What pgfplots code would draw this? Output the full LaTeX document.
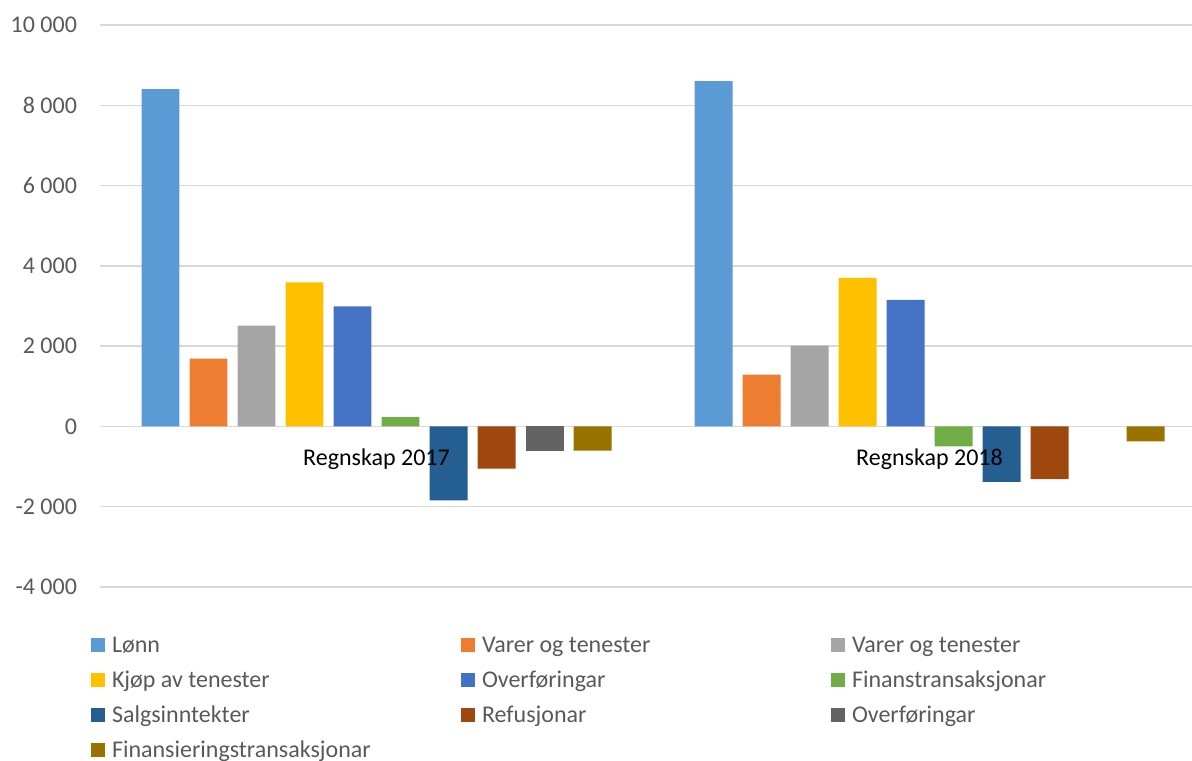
\documentclass[border=0pt]{standalone}
\usepackage{pgfplots}
\pgfplotsset{compat=1.18}
\usepackage{fontspec}
\setmainfont{Carlito}
\definecolor{c1}{HTML}{5B9BD5}
\definecolor{c2}{HTML}{ED7D31}
\definecolor{c3}{HTML}{A5A5A5}
\definecolor{c4}{HTML}{FFC000}
\definecolor{c5}{HTML}{4472C4}
\definecolor{c6}{HTML}{70AD47}
\definecolor{c7}{HTML}{255E91}
\definecolor{c8}{HTML}{9E480E}
\definecolor{c9}{HTML}{636363}
\definecolor{c10}{HTML}{997300}
\definecolor{gridc}{HTML}{D9D9D9}
\definecolor{tickc}{HTML}{595959}
\pgfplotsset{
  mybar/.style={fill=#1, draw=none,
    legend image code/.code={\fill[#1] (0pt,0pt) rectangle (7pt,7pt);}},
}
\newcommand{\legent}[1]{\addlegendentry{\makebox[174.5pt][l]{#1}}}
\begin{document}
\begin{tikzpicture}
\begin{axis}[
  set layers,
  scale only axis, width=546pt, height=281pt,
  xmin=-0.5, xmax=1.4747, ymin=-4000, ymax=10000,
  axis x line=middle, axis y line=left,
  x axis line style={-, draw=gridc, line width=0.75pt},
  y axis line style={draw=none},
  xtick={0,1}, xticklabels={Regnskap 2017, Regnskap 2018},
  ytick={-4000,-2000,0,2000,4000,6000,8000,10000},
  yticklabels={-4 000,-2 000,0,2 000,4 000,6 000,8 000,10 000},
  scaled y ticks=false,
  major tick length=0pt,
  ymajorgrids, grid style={draw=gridc, line width=0.75pt},
  yticklabel style={font=\fontsize{12}{14}\selectfont, text=tickc, xshift=-8pt},
  xticklabel style={font=\fontsize{12}{14}\selectfont, text=black, anchor=base, yshift=-19.5pt, /pgfplots/on layer=axis foreground},
  ybar, bar width=0.0687,
  legend columns=3,
  legend style={draw=none, fill=none, inner sep=0pt, outer sep=0pt,
    at={(axis description cs:0,0)}, anchor=north west, xshift=-4.5pt, yshift=-24.5pt,
    font=\fontsize{12}{14}\selectfont, text=tickc,
    nodes={inner sep=0pt, anchor=base west, text height=8pt, text depth=2.5pt},
    row sep=7pt,
    /tikz/every odd column/.append style={column sep=3.5pt},
    /tikz/every even column/.append style={column sep=0pt}},
]
\addplot[mybar=c1, bar shift=-0.3906] coordinates {(0,8400) (1,8600)}; \legent{Lønn}
\addplot[mybar=c2, bar shift=-0.3038] coordinates {(0,1690) (1,1290)}; \legent{Varer og tenester}
\addplot[mybar=c3, bar shift=-0.2170] coordinates {(0,2510) (1,2010)}; \legent{Varer og tenester}
\addplot[mybar=c4, bar shift=-0.1302] coordinates {(0,3590) (1,3700)}; \legent{Kjøp av tenester}
\addplot[mybar=c5, bar shift=-0.0434] coordinates {(0,2990) (1,3150)}; \legent{Overføringar}
\addplot[mybar=c6, bar shift=0.0434] coordinates {(0,230) (1,-500)}; \legent{Finanstransaksjonar}
\addplot[mybar=c7, bar shift=0.1302] coordinates {(0,-1840) (1,-1380)}; \legent{Salgsinntekter}
\addplot[mybar=c8, bar shift=0.2170] coordinates {(0,-1050) (1,-1310)}; \legent{Refusjonar}
\addplot[mybar=c9, bar shift=0.3038] coordinates {(0,-600)}; \legent{Overføringar}
\addplot[mybar=c10, bar shift=0.3906] coordinates {(0,-600) (1,-370)}; \legent{Finansieringstransaksjonar}
\end{axis}
\pgfresetboundingbox
\path (current axis.south west) ++(-50pt,-86.5pt) rectangle ++(596pt,380pt);
\end{tikzpicture}
\end{document}
